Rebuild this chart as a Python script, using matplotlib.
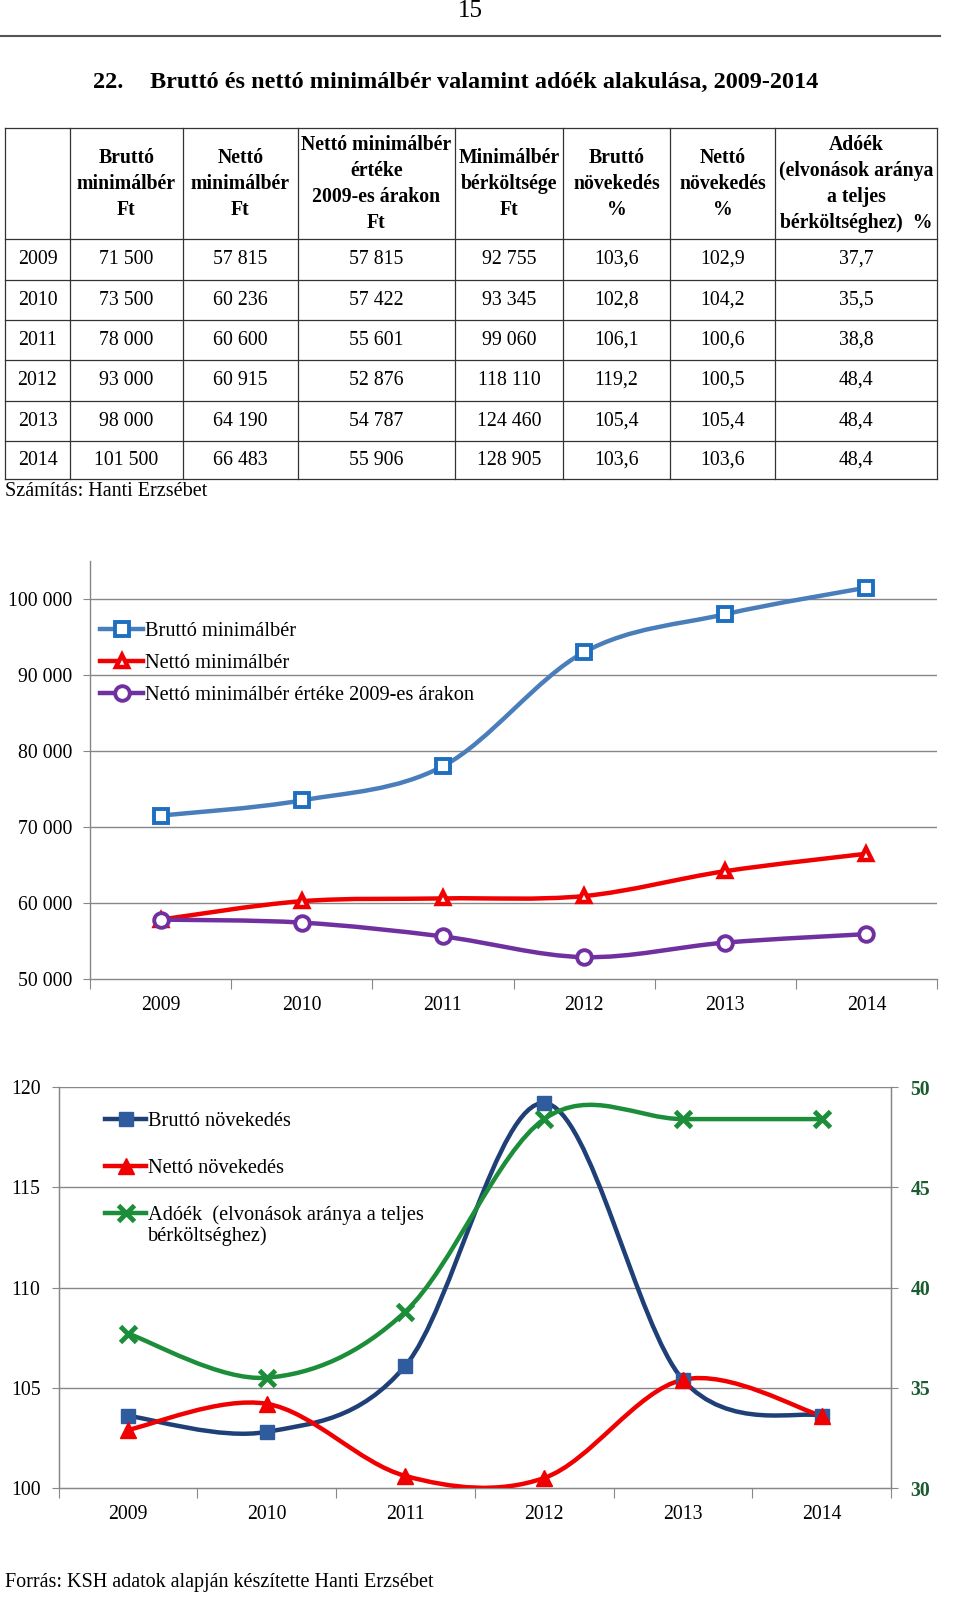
import numpy as np
import matplotlib
matplotlib.use('Agg')
import matplotlib.pyplot as plt
from matplotlib.path import Path
from matplotlib.patches import PathPatch
from matplotlib.lines import Line2D

plt.rcParams['font.family'] = ['Liberation Serif', 'DejaVu Serif']

# ---------------- data ----------------
years = [2009, 2010, 2011, 2012, 2013, 2014]
brutto = [71500, 73500, 78000, 93000, 98000, 101500]
netto = [57815, 60236, 60600, 60915, 64190, 66483]
netto_2009 = [57815, 57422, 55601, 52876, 54787, 55906]
berkoltseg = [92755, 93345, 99060, 118110, 124460, 128905]
brutto_nov = [103.6, 102.8, 106.1, 119.2, 105.4, 103.6]
netto_nov = [102.9, 104.2, 100.6, 100.5, 105.4, 103.6]
adoek = [37.7, 35.5, 38.8, 48.4, 48.4, 48.4]

headers = ["",
           "Bruttó\nminimálbér\nFt",
           "Nettó\nminimálbér\nFt",
           "Nettó minimálbér\nértéke\n2009-es árakon\nFt",
           "Minimálbér\nbérköltsége\nFt",
           "Bruttó\nnövekedés\n%",
           "Nettó\nnövekedés\n%",
           "Adóék\n(elvonások aránya\na teljes\nbérköltséghez)  %"]

title_num = "22."
title_text = "Bruttó és nettó minimálbér valamint adóék alakulása, 2009-2014"
page_num = "15"
note1 = "Számítás: Hanti Erzsébet"
note2 = "Forrás: KSH adatok alapján készítette Hanti Erzsébet"

labels1 = ["Bruttó minimálbér", "Nettó minimálbér", "Nettó minimálbér értéke 2009-es árakon"]
labels2 = ["Bruttó növekedés", "Nettó növekedés", "Adóék  (elvonások aránya a teljes"]
label2_cont = "bérköltséghez)"


def fmt_int(v):
    return f"{v:,}".replace(",", " ")


def fmt_dec(v):
    return f"{v:.1f}".replace(".", ",")


def smooth_path(x, y):
    x = np.asarray(x, float)
    y = np.asarray(y, float)
    n = len(x)
    verts = [(x[0], y[0])]
    codes = [Path.MOVETO]
    for i in range(n - 1):
        p0 = i - 1 if i > 0 else i
        p3 = i + 2 if i + 2 < n else i + 1
        c1 = (x[i] + (x[i + 1] - x[p0]) / 6, y[i] + (y[i + 1] - y[p0]) / 6)
        c2 = (x[i + 1] - (x[p3] - x[i]) / 6, y[i + 1] - (y[p3] - y[i]) / 6)
        verts += [c1, c2, (x[i + 1], y[i + 1])]
        codes += [Path.CURVE4] * 3
    return Path(verts, codes)


W, H = 960, 1601
fig = plt.figure(figsize=(W / 100, H / 100), dpi=100)
fig.patch.set_facecolor('white')

# ---------------- page overlay (pixel coords) ----------------
ov = fig.add_axes([0, 0, 1, 1])
ov.set_xlim(0, W)
ov.set_ylim(H, 0)
ov.axis('off')
ov.patch.set_visible(False)

ov.text(470, 11, page_num, ha='center', va='center', fontsize=18)
ov.plot([0, 940], [36, 36], color='#555555', lw=1.5)
ov.text(93, 82, title_num, ha='left', va='center', fontsize=17.5, fontweight='bold')
ov.text(150, 82, title_text, ha='left', va='center', fontsize=17.5, fontweight='bold')

# table
col_edges = [5, 70, 183, 298, 455, 563, 670, 775, 937]
row_edges = [128, 239, 280, 320, 360, 401, 441, 479]
bc = '#333333'
for xe in col_edges:
    ov.plot([xe, xe], [row_edges[0], row_edges[-1]], color=bc, lw=0.9)
for ye in row_edges:
    ov.plot([col_edges[0], col_edges[-1]], [ye, ye], color=bc, lw=0.9)

hc = (row_edges[0] + row_edges[1]) / 2
for j, h in enumerate(headers):
    if not h:
        continue
    lines = h.split("\n")
    xc = (col_edges[j] + col_edges[j + 1]) / 2
    n = len(lines)
    for k, ln in enumerate(lines):
        yk = hc + (k - (n - 1) / 2) * 26
        ov.text(xc, yk, ln, ha='center', va='center', fontsize=14.2, fontweight='bold')

cols = [years, brutto, netto, netto_2009, berkoltseg, brutto_nov, netto_nov, adoek]
for i in range(len(years)):
    yc = (row_edges[i + 1] + row_edges[i + 2]) / 2
    for j, col in enumerate(cols):
        v = col[i]
        if j == 0:
            s = str(v)
        elif isinstance(v, float):
            s = fmt_dec(v)
        else:
            s = fmt_int(v)
        xc = (col_edges[j] + col_edges[j + 1]) / 2
        ov.text(xc, yc, s, ha='center', va='center', fontsize=14.3)

ov.text(5, 491, note1, ha='left', va='center', fontsize=14.5)
ov.text(5, 1582, note2, ha='left', va='center', fontsize=14.5)
ov.text(148, 1236, label2_cont, ha='left', va='center', fontsize=14.7)

grid_c = '#878787'
x = np.arange(len(years))

# ---------------- chart 1 ----------------
ax1 = fig.add_axes([90 / W, 622 / H, 847 / W, 418 / H])
ax1.patch.set_visible(False)
ax1.set_xlim(-0.5, len(years) - 0.5)
ax1.set_ylim(50000, 105000)
ax1.set_yticks(np.arange(50000, 100001, 10000))
ax1.set_yticklabels([fmt_int(v) for v in range(50000, 100001, 10000)])
for v in range(60000, 100001, 10000):
    ax1.axhline(v, color=grid_c, lw=1, zorder=0)
for s in ['top', 'right']:
    ax1.spines[s].set_visible(False)
for s in ['left', 'bottom']:
    ax1.spines[s].set_color(grid_c)
    ax1.spines[s].set_linewidth(1)
ax1.set_xticks(np.arange(-0.5, len(years), 1))
ax1.set_xticklabels([])
ax1.set_xticks(x, minor=True)
ax1.set_xticklabels([str(y) for y in years], minor=True)
ax1.tick_params(axis='x', which='major', length=7, color=grid_c, direction='out')
ax1.tick_params(axis='x', which='minor', length=0, pad=12, labelsize=14.2)
ax1.tick_params(axis='y', length=5, color=grid_c, pad=8, labelsize=14.2)

series1 = [
    (brutto, '#4A7EBB', '#1F6FC0', 's', 'white', 10, 2.8),
    (netto, '#F00000', '#F00000', '^', 'white', 9, 3.2),
    (netto_2009, '#7030A0', '#7030A0', 'o', 'white', 10.5, 2.8),
]
handles1 = []
for (vals, lc, mc, mk, mf, ms, mew), lab in zip(series1, labels1):
    ax1.add_patch(PathPatch(smooth_path(x, vals), fill=False, edgecolor=lc, lw=3.2,
                            capstyle='round', joinstyle='round', zorder=3))
    ax1.plot(x, vals, linestyle='none', marker=mk, markersize=ms, markerfacecolor=mf,
             markeredgecolor=mc, markeredgewidth=mew, zorder=4)
    handles1.append(Line2D([], [], color=lc, lw=3.2, marker=mk, markersize=ms,
                           markerfacecolor=mf, markeredgecolor=mc, markeredgewidth=mew))
ax1.legend(handles1, labels1, loc='upper left', bbox_to_anchor=(0.012, 0.855),
           frameon=False, fontsize=14.7, handlelength=2.1, handletextpad=0.12,
           labelspacing=0.63, borderpad=0, borderaxespad=0)

# ---------------- chart 2 ----------------
ax2 = fig.add_axes([58.6 / W, 113 / H, (891 - 58.6) / W, 401 / H])
ax2.patch.set_visible(False)
ax2.set_xlim(-0.5, len(years) - 0.5)
ax2.set_ylim(100, 120)
ax2.set_yticks(np.arange(100, 121, 5))
for v in range(105, 121, 5):
    ax2.axhline(v, color=grid_c, lw=1, zorder=0)
ax2.spines['top'].set_visible(False)
for s in ['left', 'bottom', 'right']:
    ax2.spines[s].set_color(grid_c)
    ax2.spines[s].set_linewidth(1)
ax2.set_xticks(np.arange(-0.5, len(years), 1))
ax2.set_xticklabels([])
ax2.set_xticks(x, minor=True)
ax2.set_xticklabels([str(y) for y in years], minor=True)
ax2.tick_params(axis='x', which='major', length=7, color=grid_c, direction='out')
ax2.tick_params(axis='x', which='minor', length=0, pad=12, labelsize=14.2)
ax2.tick_params(axis='y', length=5, color=grid_c, pad=8, labelsize=14.2)

ax2r = ax2.twinx()
ax2r.set_ylim(30, 50)
ax2r.set_yticks(np.arange(30, 51, 5))
ax2r.spines['top'].set_visible(False)
for s in ['left', 'bottom', 'right']:
    ax2r.spines[s].set_color(grid_c)
ax2r.tick_params(axis='y', length=5, color=grid_c, pad=9, labelsize=14.2,
                 labelcolor='#1A5C30')
for t in ax2r.get_yticklabels():
    t.set_fontweight('bold')

h_b = Line2D([], [], color='#1F3F77', lw=3.2, marker='s', markersize=10,
             markerfacecolor='#2F5C9E', markeredgecolor='#2F5C9E')
h_n = Line2D([], [], color='#F00000', lw=3.2, marker='^', markersize=12,
             markerfacecolor='#F00000', markeredgecolor='#F00000')
h_a = Line2D([], [], color='#1C8E3A', lw=3.2, marker='x', markersize=11,
             markeredgewidth=3.5, markeredgecolor='#1C8E3A')

ax2.add_patch(PathPatch(smooth_path(x, brutto_nov), fill=False, edgecolor='#1F3F77', lw=3.2,
                        capstyle='round', joinstyle='round', zorder=3))
ax2.plot(x, brutto_nov, linestyle='none', marker='s', markersize=10,
         markerfacecolor='#2F5C9E', markeredgecolor='#2F5C9E', zorder=4)
ax2.add_patch(PathPatch(smooth_path(x, netto_nov), fill=False, edgecolor='#F00000', lw=3.2,
                        capstyle='round', joinstyle='round', zorder=3))
ax2.plot(x, netto_nov, linestyle='none', marker='^', markersize=12,
         markerfacecolor='#F00000', markeredgecolor='#F00000', zorder=4)
ax2r.add_patch(PathPatch(smooth_path(x, adoek), fill=False, edgecolor='#1C8E3A', lw=3.2,
                         capstyle='round', joinstyle='round', zorder=3))
ax2r.plot(x, adoek, linestyle='none', marker='x', markersize=11, markeredgewidth=3.5,
          markeredgecolor='#1C8E3A', zorder=4)

ax2r.legend([h_b, h_n, h_a], labels2, loc='upper left', bbox_to_anchor=(0.056, 0.938),
            frameon=False, fontsize=14.7, handlelength=2.0, handletextpad=0.12,
            labelspacing=1.34, borderpad=0, borderaxespad=0)

fig.savefig('out.png', dpi=100)
